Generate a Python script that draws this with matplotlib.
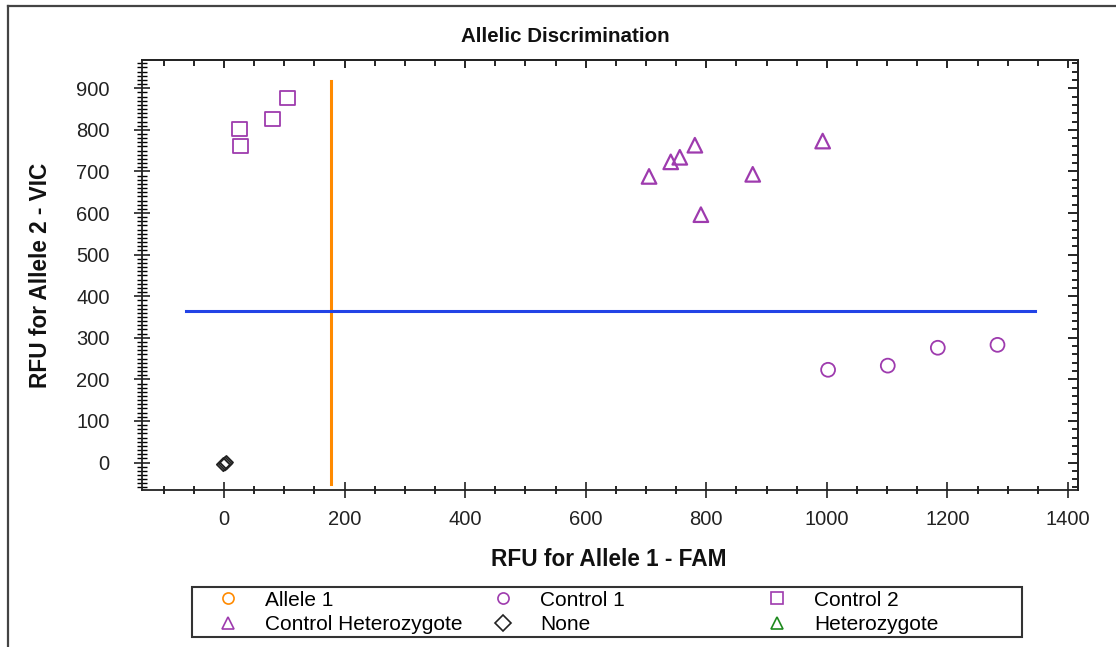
import numpy as np
import matplotlib
matplotlib.use('Agg')
import matplotlib.pyplot as plt
from matplotlib.ticker import MultipleLocator
from matplotlib.lines import Line2D
from matplotlib.patches import Rectangle

plt.rcParams['font.family'] = ['Liberation Sans', 'DejaVu Sans']

# data
ctrl2_x = [26, 27, 80, 105]
ctrl2_y = [802, 761, 826, 877]
het_x = [705, 741, 756, 781, 791, 877, 993]
het_y = [688, 723, 734, 763, 596, 693, 773]
ctrl1_x = [1002, 1101, 1184, 1283]
ctrl1_y = [223, 233, 276, 283]
none_x = [-1, 2, 4]
none_y = [-5, -3, 0]

# threshold lines
thr_x = 177
thr_x_span = [-52, 918]
thr_y = 365
thr_y_span = [-63, 1345]

purple = '#9E3BAE'
orange = '#FF8A00'
blue = '#2243E6'
green = '#1E8A1E'

W, H = 1116, 647
fig = plt.figure(figsize=(W / 100, H / 100), dpi=100)
ax = fig.add_axes([0.127, 0.2427, 0.8392, 0.6646])

ax.plot([thr_x, thr_x], thr_x_span, color=orange, lw=2.2)
ax.plot(thr_y_span, [thr_y, thr_y], color=blue, lw=2.2)

ax.scatter(ctrl2_x, ctrl2_y, marker='s', s=110, facecolors='none', edgecolors=purple, linewidths=1.3, zorder=3)
ax.scatter(het_x, het_y, marker='^', s=110, facecolors='none', edgecolors=purple, linewidths=1.6, zorder=3)
ax.scatter(ctrl1_x, ctrl1_y, marker='o', s=100, facecolors='none', edgecolors=purple, linewidths=1.3, zorder=3)
ax.scatter(none_x, none_y, marker='D', s=45, facecolors='none', edgecolors='#222222', linewidths=1.3, zorder=3)

ax.set_xlim(-136.5, 1417)
ax.set_ylim(-66, 968)
ax.xaxis.set_major_locator(MultipleLocator(200))
ax.xaxis.set_minor_locator(MultipleLocator(50))
ax.yaxis.set_major_locator(MultipleLocator(100))
ax.yaxis.set_minor_locator(MultipleLocator(10))

for sp in ax.spines.values():
    sp.set_linewidth(1.3)
    sp.set_color('#222222')

ax.tick_params(axis='x', which='major', direction='inout', length=11, width=1.2, labelsize=14.5, pad=9, colors='#222222')
ax.tick_params(axis='x', which='minor', direction='inout', length=5.5, width=1.2)
ax.tick_params(axis='y', which='major', direction='inout', length=12, width=1.2, labelsize=14.5, pad=17, colors='#222222')
ax.tick_params(axis='y', which='minor', direction='inout', length=7, width=1.0)

top = ax.secondary_xaxis('top')
top.xaxis.set_major_locator(MultipleLocator(200))
top.xaxis.set_minor_locator(MultipleLocator(50))
top.tick_params(which='major', direction='in', length=6, width=1.2, labeltop=False)
top.tick_params(which='minor', direction='in', length=4, width=1.2)
right = ax.secondary_yaxis('right')
right.yaxis.set_major_locator(MultipleLocator(100))
right.yaxis.set_minor_locator(MultipleLocator(20))
right.tick_params(which='major', direction='in', length=7, width=1.2, labelright=False)
right.tick_params(which='minor', direction='in', length=4, width=1.2)
for s in (top, right):
    for sp in s.spines.values():
        sp.set_linewidth(1.3)
        sp.set_color('#222222')

fig.text(0.507, 0.944, 'Allelic Discrimination', ha='center', va='center', fontsize=14.8, fontweight='bold', color='#111111')
fig.text(0.5457, 0.1345, 'RFU for Allele 1 - FAM', ha='center', va='center', fontsize=16.3, fontweight='bold', color='#111111')
fig.text(0.036, 0.575, 'RFU for Allele 2 - VIC', ha='center', va='center', rotation=90, fontsize=16.3, fontweight='bold', color='#111111')

# outer frame lines (left and top)
fig.add_artist(Line2D([8 / W, 8 / W], [0, 1 - 6 / H], transform=fig.transFigure, color='#444444', lw=1.6))
fig.add_artist(Line2D([8 / W, 1], [1 - 6 / H, 1 - 6 / H], transform=fig.transFigure, color='#444444', lw=1.6))

def h(marker, color):
    return Line2D([], [], ls='none', marker=marker, markersize=8, markerfacecolor='none',
                  markeredgecolor=color, markeredgewidth=1.2)

# legend: one box, three columns
fig.add_artist(Rectangle((192 / W, 1 - 637 / H), 830 / W, 50 / H, transform=fig.transFigure,
                         facecolor='white', edgecolor='#333333', lw=1.5))
cols = [
    (228, [h('o', orange), h('^', purple)], ['Allele 1', 'Control Heterozygote']),
    (503, [h('o', purple), h('D', '#222222')], ['Control 1', 'None']),
    (777, [h('s', purple), h('^', green)], ['Control 2', 'Heterozygote']),
]
fs = 15
hl_px = 24
for mx, hs, ls in cols:
    leg = fig.legend(hs, ls, loc='center left', bbox_to_anchor=((mx - hl_px / 2) / W, 1 - 612.5 / H),
                     fontsize=fs, frameon=False, borderpad=0, borderaxespad=0,
                     handlelength=hl_px / (fs * 100 / 72), handletextpad=25 / (fs * 100 / 72),
                     labelspacing=0.28)

fig.savefig('out.png', dpi=100)
